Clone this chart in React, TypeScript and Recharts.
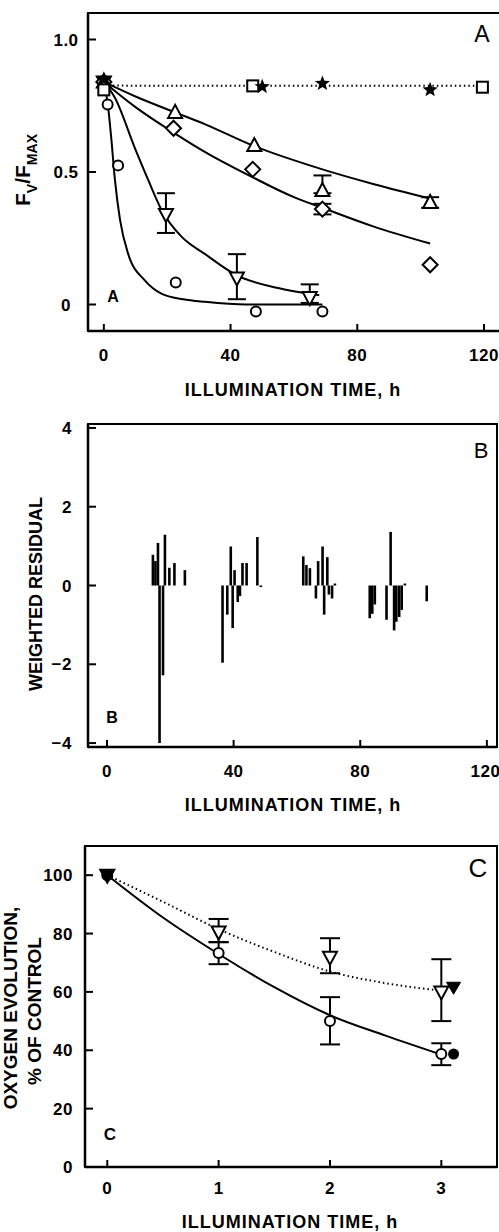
import React from 'react';
import { ComposedChart, Line, Scatter, XAxis, YAxis, ErrorBar, ReferenceArea } from 'recharts';

const FONT = '"Liberation Sans", Arial, Helvetica, sans-serif';

// ---- panel A: Fv/Fmax vs illumination time ----
const aSquares = [{ x: 0, y: 0.81 }, { x: 47, y: 0.825 }, { x: 119.5, y: 0.82 }];
const aStars = [{ x: 0, y: 0.85 }, { x: 50, y: 0.822 }, { x: 69, y: 0.834 }, { x: 103, y: 0.81 }];
const aFlat = [{ x: 0, y: 0.826 }, { x: 120, y: 0.825 }];
const aTriUp = [
  { x: 0, y: 0.84 },
  { x: 22.5, y: 0.725 },
  { x: 47.5, y: 0.6 },
  { x: 69, y: 0.43, err: [0.01, 0.057] },
  { x: 103, y: 0.385, err: [0.02, 0.02] },
];
const aDiamonds = [
  { x: 0, y: 0.84 },
  { x: 22, y: 0.665 },
  { x: 47, y: 0.51 },
  { x: 69, y: 0.36, err: [0.02, 0.02] },
  { x: 103, y: 0.15 },
];
const aTriDown = [
  { x: 0, y: 0.84 },
  { x: 19.6, y: 0.34, err: [0.07, 0.08] },
  { x: 42, y: 0.1, err: [0.08, 0.09] },
  { x: 65, y: 0.026, err: [0.02, 0.05] },
];
const aCircles = [
  { x: 0, y: 0.83 },
  { x: 1.2, y: 0.755 },
  { x: 4.5, y: 0.525 },
  { x: 22.7, y: 0.083 },
  { x: 48, y: -0.026 },
  { x: 69, y: -0.026 },
];
// fitted curves
const fitTriUp = [
  { x: 0, y: 0.84 }, { x: 10, y: 0.785 }, { x: 22.5, y: 0.725 }, { x: 32, y: 0.68 },
  { x: 47, y: 0.6 }, { x: 69, y: 0.51 }, { x: 85, y: 0.455 }, { x: 103, y: 0.4 },
];
const fitDiamond = [
  { x: 0, y: 0.84 }, { x: 10, y: 0.745 }, { x: 22.5, y: 0.645 }, { x: 32, y: 0.575 },
  { x: 47, y: 0.48 }, { x: 60, y: 0.405 }, { x: 69, y: 0.365 }, { x: 85, y: 0.295 }, { x: 103, y: 0.23 },
];
const fitTriDown = [
  { x: 0, y: 0.84 }, { x: 3.5, y: 0.78 }, { x: 9.8, y: 0.59 }, { x: 14, y: 0.47 },
  { x: 18.3, y: 0.355 }, { x: 24.6, y: 0.255 }, { x: 32, y: 0.19 }, { x: 42, y: 0.11 },
  { x: 55, y: 0.062 }, { x: 68, y: 0.035 },
];
const fitCircle = [
  { x: 0, y: 0.84 }, { x: 1.2, y: 0.76 }, { x: 2.4, y: 0.62 }, { x: 3.5, y: 0.47 },
  { x: 5.1, y: 0.32 }, { x: 7.7, y: 0.19 }, { x: 13, y: 0.09 }, { x: 18.3, y: 0.04 },
  { x: 25, y: 0.02 }, { x: 32, y: 0.01 }, { x: 45, y: 0.0 }, { x: 69, y: 0.0 },
];

// ---- panel B: weighted residuals ----
const residuals = [
  { x: 14.5, r: 0.78 }, { x: 15.3, r: 0.62 }, { x: 16.1, r: 1.08 }, { x: 16.6, r: -4.0 },
  { x: 17.7, r: -2.28 }, { x: 18.3, r: 1.29 }, { x: 19.7, r: 0.45 }, { x: 21.3, r: 0.57 },
  { x: 24.6, r: 0.39 },
  { x: 36.5, r: -1.96 }, { x: 38.0, r: -0.74 }, { x: 39.1, r: 0.99 }, { x: 39.7, r: -1.08 },
  { x: 40.3, r: 0.39 }, { x: 41.3, r: -0.42 }, { x: 42.0, r: -0.27 }, { x: 42.8, r: 0.57 },
  { x: 44.1, r: 0.57 }, { x: 47.5, r: 1.23 }, { x: 48.6, r: -0.04 },
  { x: 62.0, r: 0.74 }, { x: 63.0, r: 0.52 }, { x: 64.1, r: 0.44 }, { x: 66.0, r: -0.33 },
  { x: 66.7, r: 0.62 }, { x: 68.1, r: 0.99 }, { x: 68.6, r: -0.74 }, { x: 69.6, r: 0.72 },
  { x: 70.1, r: -0.23 }, { x: 71.1, r: -0.33 }, { x: 72.0, r: 0.05 },
  { x: 83.0, r: -0.83 }, { x: 83.8, r: -0.72 }, { x: 84.6, r: -0.48 }, { x: 88.3, r: -0.87 },
  { x: 89.6, r: 1.36 }, { x: 90.7, r: -1.14 }, { x: 91.4, r: -0.92 }, { x: 92.3, r: -0.8 },
  { x: 93.1, r: -0.62 }, { x: 94.1, r: 0.05 }, { x: 101.0, r: -0.4 },
];

// ---- panel C: oxygen evolution ----
const cCircles = [
  { x: 0, y: 100 },
  { x: 1, y: 73.3, err: [3.8, 3.8] },
  { x: 2, y: 50, err: [8, 8.2] },
  { x: 3, y: 38.7, err: [3.8, 3.7] },
];
const cCircleFilled = [{ x: 3.11, y: 38.7 }];
const cTriDown = [
  { x: 0, y: 100 },
  { x: 1, y: 80.5, err: [3.5, 4.5] },
  { x: 2, y: 71.9, err: [5.5, 6.5] },
  { x: 3, y: 60, err: [10, 11.2] },
];
const cTriFilled = [{ x: 0, y: 100 }, { x: 3.11, y: 61.6 }];
const fitCSolid = [
  { x: 0, y: 100 }, { x: 0.5, y: 85.5 }, { x: 1, y: 73 }, { x: 1.5, y: 61.6 },
  { x: 2, y: 52 }, { x: 2.5, y: 45 }, { x: 3, y: 38.5 },
];
const fitCDotted = [
  { x: 0, y: 100 }, { x: 0.5, y: 90.9 }, { x: 1, y: 81.5 }, { x: 1.5, y: 73.7 },
  { x: 2, y: 67 }, { x: 2.5, y: 63 }, { x: 3, y: 60.4 },
];

const tickStyle = { fill: '#000', fontSize: 17, fontWeight: 700, fontFamily: FONT, letterSpacing: 0.5 };
const axisLine = { stroke: '#000', strokeWidth: 2.5 };
const tickLine = { stroke: '#000', strokeWidth: 2 };

// marker shapes
const OpenCircle = (p: any) => <circle cx={p.cx} cy={p.cy} r={5} fill="#fff" stroke="#000" strokeWidth={2} />;
const FilledCircle = (p: any) => <circle cx={p.cx} cy={p.cy} r={5.5} fill="#000" />;
const TriUp = (p: any) => (
  <polygon points={`${p.cx},${p.cy - 7.5} ${p.cx - 7},${p.cy + 5.5} ${p.cx + 7},${p.cy + 5.5}`} fill="#fff" stroke="#000" strokeWidth={2} />
);
const TriDown = (p: any) => (
  <polygon points={`${p.cx - 7},${p.cy - 5.5} ${p.cx + 7},${p.cy - 5.5} ${p.cx},${p.cy + 7.5}`} fill="#fff" stroke="#000" strokeWidth={2} />
);
const TriDownFilled = (p: any) => (
  <polygon points={`${p.cx - 7},${p.cy - 5} ${p.cx + 7},${p.cy - 5} ${p.cx},${p.cy + 7}`} fill="#000" stroke="#000" strokeWidth={1} />
);
const Diamond = (p: any) => (
  <polygon points={`${p.cx},${p.cy - 7.5} ${p.cx + 7.5},${p.cy} ${p.cx},${p.cy + 7.5} ${p.cx - 7.5},${p.cy}`} fill="#fff" stroke="#000" strokeWidth={2} />
);
const Square = (p: any) => <rect x={p.cx - 5.5} y={p.cy - 5.5} width={11} height={11} fill="#fff" stroke="#000" strokeWidth={2} />;
const Star = (p: any) => {
  const pts: string[] = [];
  for (let i = 0; i < 10; i++) {
    const r = i % 2 === 0 ? 8 : 3.4;
    const a = -Math.PI / 2 + (i * Math.PI) / 5;
    pts.push(`${p.cx + r * Math.cos(a)},${p.cy + r * Math.sin(a)}`);
  }
  return <polygon points={pts.join(' ')} fill="#000" />;
};
const NoMark = () => <g />;

const err = (w: number) => (
  <ErrorBar dataKey="err" direction="y" width={w} stroke="#000" strokeWidth={2} isAnimationActive={false} />
);

function PanelA() {
  return (
    <div style={{ position: 'absolute', left: 0, top: 0 }}>
      <ComposedChart width={503} height={376} margin={{ top: 13, right: 0, bottom: 0, left: 0 }}>
        <XAxis type="number" dataKey="x" domain={[-5, 126]} ticks={[0, 40, 80, 120]} allowDataOverflow
          height={45} tickSize={-7} tickMargin={25} tick={tickStyle} axisLine={axisLine} tickLine={tickLine} />
        <YAxis type="number" domain={[-0.1, 1.1]} ticks={[0, 0.5, 1]} allowDataOverflow width={88}
          tickSize={-8} tickMargin={30} tick={{ ...tickStyle, textAnchor: 'middle' }}
          tickFormatter={(v: number) => (v === 0 ? '0' : v.toFixed(1))} axisLine={axisLine} tickLine={tickLine} />
        <ReferenceArea x1={-5} x2={126} y1={-0.1} y2={1.1} fill="none" stroke="#000" strokeWidth={2} ifOverflow="visible" />
        <Line data={aFlat} dataKey="y" stroke="#000" strokeWidth={2} strokeDasharray="1.5 3" dot={false} isAnimationActive={false} />
        <Line data={fitTriUp} dataKey="y" type="monotone" stroke="#000" strokeWidth={2} dot={false} isAnimationActive={false} />
        <Line data={fitDiamond} dataKey="y" type="monotone" stroke="#000" strokeWidth={2} dot={false} isAnimationActive={false} />
        <Line data={fitTriDown} dataKey="y" type="monotone" stroke="#000" strokeWidth={2} dot={false} isAnimationActive={false} />
        <Line data={fitCircle} dataKey="y" type="monotone" stroke="#000" strokeWidth={2} dot={false} isAnimationActive={false} />
        <Scatter data={aCircles} dataKey="y" shape={OpenCircle} isAnimationActive={false} />
        <Scatter data={aTriDown} dataKey="y" shape={TriDown} isAnimationActive={false}>{err(9)}</Scatter>
        <Scatter data={aDiamonds} dataKey="y" shape={Diamond} isAnimationActive={false}>{err(9)}</Scatter>
        <Scatter data={aTriUp} dataKey="y" shape={TriUp} isAnimationActive={false}>{err(9)}</Scatter>
        <Scatter data={aSquares} dataKey="y" shape={Square} isAnimationActive={false} />
        <Scatter data={aStars} dataKey="y" shape={Star} isAnimationActive={false} />
      </ComposedChart>
    </div>
  );
}

function PanelB() {
  return (
    <div style={{ position: 'absolute', left: 0, top: 400 }}>
      <ComposedChart width={499} height={392} margin={{ top: 24, right: 2, bottom: 0, left: 0 }}>
        <XAxis type="number" dataKey="x" domain={[-6, 123.2]} ticks={[0, 40, 80, 120]} allowDataOverflow
          height={45} tickSize={-7} tickMargin={25} tick={tickStyle} axisLine={axisLine} tickLine={tickLine} />
        <YAxis type="number" domain={[-4.1, 4.1]} ticks={[-4, -2, 0, 2, 4]} allowDataOverflow width={88}
          tickSize={-8} tickMargin={24} tick={tickStyle}
          tickFormatter={(v: number) => (v < 0 ? `\u2212${-v}` : `${v}`)} axisLine={axisLine} tickLine={tickLine} />
        <ReferenceArea x1={-6} x2={123.2} y1={-4.1} y2={4.1} fill="none" stroke="#000" strokeWidth={2} ifOverflow="visible" />
        <Scatter data={residuals} dataKey="r" shape={NoMark} isAnimationActive={false}>
          <ErrorBar
            dataKey={(d: any) => (d.r > 0 ? [d.r, 0] : [0, -d.r])}
            direction="y" width={0} stroke="#000" strokeWidth={2.6} isAnimationActive={false}
          />
        </Scatter>
      </ComposedChart>
    </div>
  );
}

function PanelC() {
  return (
    <div style={{ position: 'absolute', left: 0, top: 820 }}>
      <ComposedChart width={499} height={392} margin={{ top: 26, right: 2, bottom: 0, left: 0 }}>
        <XAxis type="number" dataKey="x" domain={[-0.2, 3.5]} ticks={[0, 1, 2, 3]} allowDataOverflow
          height={45} tickSize={-7} tickMargin={22} tick={tickStyle} axisLine={axisLine} tickLine={tickLine} />
        <YAxis type="number" domain={[0, 110]} ticks={[0, 20, 40, 60, 80, 100]} allowDataOverflow width={85}
          tickSize={-8} tickMargin={20} tick={tickStyle} axisLine={axisLine} tickLine={tickLine} />
        <ReferenceArea x1={-0.2} x2={3.5} y1={0} y2={110} fill="none" stroke="#000" strokeWidth={2} ifOverflow="visible" />
        <Line data={fitCDotted} dataKey="y" type="monotone" stroke="#000" strokeWidth={2} strokeDasharray="1.5 3" dot={false} isAnimationActive={false} />
        <Line data={fitCSolid} dataKey="y" type="monotone" stroke="#000" strokeWidth={2} dot={false} isAnimationActive={false} />
        <Scatter data={cCircles} dataKey="y" shape={OpenCircle} isAnimationActive={false}>{err(10)}</Scatter>
        <Scatter data={cTriDown} dataKey="y" shape={TriDown} isAnimationActive={false}>{err(10)}</Scatter>
        <Scatter data={cCircleFilled} dataKey="y" shape={FilledCircle} isAnimationActive={false} />
        <Scatter data={cTriFilled} dataKey="y" shape={TriDownFilled} isAnimationActive={false} />
      </ComposedChart>
    </div>
  );
}

function Texts() {
  const bold = { fontFamily: FONT, fontWeight: 700, fill: '#000' };
  const reg = { fontFamily: FONT, fontWeight: 400, fill: '#000' };
  return (
    <svg width={499} height={1232} style={{ position: 'absolute', left: 0, top: 0, pointerEvents: 'none' }}>
      {/* y titles */}
      <text transform="translate(30,170) rotate(-90)" textAnchor="middle" fontSize={21} {...bold}>
        F<tspan fontSize={14} dy={7}>V</tspan><tspan dy={-7}>/F</tspan><tspan fontSize={14} dy={7}>MAX</tspan>
      </text>
      <text transform="translate(42,594) rotate(-90)" textAnchor="middle" fontSize={18} {...bold}>WEIGHTED RESIDUAL</text>
      <text transform="translate(17,1008) rotate(-90)" textAnchor="middle" fontSize={19} {...bold}>OXYGEN EVOLUTION,</text>
      <text transform="translate(41,1011) rotate(-90)" textAnchor="middle" fontSize={19} {...bold}>% OF CONTROL</text>
      {/* x titles */}
      <text x={293} y={396} textAnchor="middle" fontSize={18} letterSpacing={1} {...bold}>ILLUMINATION TIME, h</text>
      <text x={293} y={811} textAnchor="middle" fontSize={18} letterSpacing={1} {...bold}>ILLUMINATION TIME, h</text>
      <text x={290} y={1228} textAnchor="middle" fontSize={18} letterSpacing={1} {...bold}>ILLUMINATION TIME, h</text>
      {/* panel letters */}
      <text x={482} y={42} textAnchor="middle" fontSize={23} {...reg}>A</text>
      <text x={113} y={302} textAnchor="middle" fontSize={16} {...bold}>A</text>
      <text x={481} y={458} textAnchor="middle" fontSize={22} {...reg}>B</text>
      <text x={112} y={723} textAnchor="middle" fontSize={16} {...bold}>B</text>
      <text x={478} y={877} textAnchor="middle" fontSize={26} {...reg}>C</text>
      <text x={110} y={1140} textAnchor="middle" fontSize={17} {...bold}>C</text>
    </svg>
  );
}

export default function App() {
  return (
    <div style={{ position: 'absolute', left: 0, top: 0, width: 499, height: 1232, overflow: 'hidden', background: '#fff' }}>
      <PanelA />
      <PanelB />
      <PanelC />
      <Texts />
    </div>
  );
}
